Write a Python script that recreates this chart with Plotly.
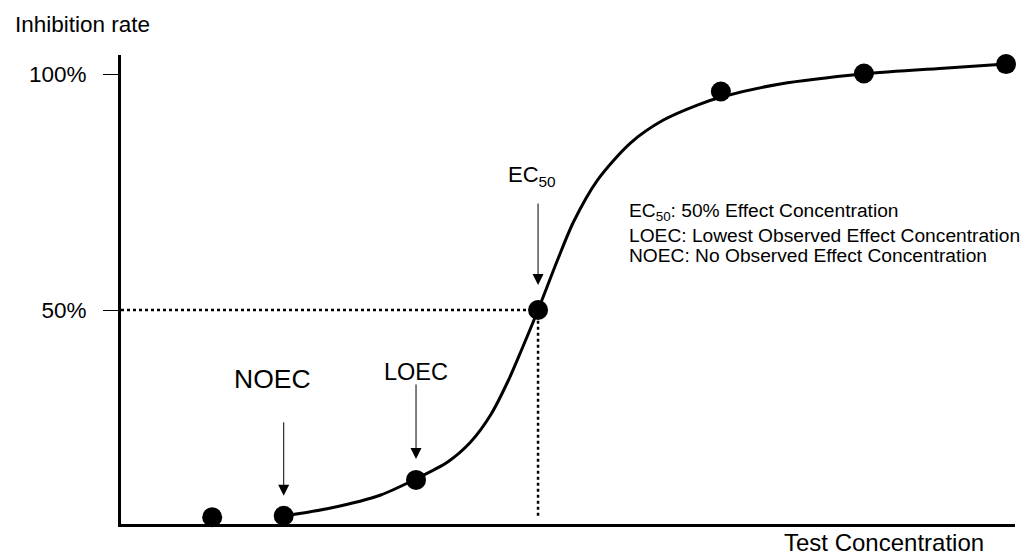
import plotly.graph_objects as go

# ---- data ----
# x: test concentration (arbitrary units), y: inhibition rate (%)
conc = [1.02, 1.82, 3.30, 4.665, 6.71, 8.31, 9.90]
inhib = [6.1, 6.4, 14.0, 50.0, 96.3, 100.1, 102.1]

curve_x = [1.821, 2.346, 2.905, 3.296, 3.654, 3.911, 4.134, 4.335, 4.480, 4.665,
           4.883, 5.061, 5.330, 5.698, 6.067, 6.447, 6.715, 7.374, 8.302, 9.240, 9.899]
curve_y = [6.36, 8.05, 10.81, 14.19, 17.80, 22.03, 27.75, 35.17, 41.53, 50.0,
           60.59, 68.64, 77.54, 85.38, 90.25, 93.43, 95.13, 97.88, 100.0, 101.27, 102.12]

y_tickvals = [50, 100]
y_ticktext = ["50%", "100%"]

legend_lines = [
    "EC<sub>50</sub>: 50% Effect Concentration",
    "LOEC: Lowest Observed Effect Concentration",
    "NOEC: No Observed Effect Concentration",
]

NOEC_i, LOEC_i, EC50_i = 1, 2, 3
X_RANGE = [0, 10]
Y_RANGE = [4.66, 104.03]

FONT = "Liberation Sans, Arial, sans-serif"

fig = go.Figure()

# dotted guide lines to EC50
fig.add_trace(go.Scatter(
    x=[X_RANGE[0], conc[EC50_i]], y=[inhib[EC50_i], inhib[EC50_i]],
    mode="lines", line=dict(color="black", width=2.5, dash="dot"),
    hoverinfo="skip", showlegend=False, cliponaxis=False))
fig.add_trace(go.Scatter(
    x=[conc[EC50_i], conc[EC50_i]], y=[inhib[1], inhib[EC50_i]],
    mode="lines", line=dict(color="black", width=2.5, dash="dot"),
    hoverinfo="skip", showlegend=False, cliponaxis=False))

# fitted curve
fig.add_trace(go.Scatter(
    x=curve_x, y=curve_y, mode="lines",
    line=dict(color="black", width=3, shape="spline", smoothing=0.8),
    showlegend=False, cliponaxis=False))

# observed points
fig.add_trace(go.Scatter(
    x=conc, y=inhib, mode="markers",
    marker=dict(color="black", size=20),
    showlegend=False, cliponaxis=False))

annotations = []
# arrows
for idx, ay, standoff in [(NOEC_i, -95, 20), (LOEC_i, -97, 21), (EC50_i, -108, 25)]:
    annotations.append(dict(
        x=conc[idx], y=inhib[idx], xref="x", yref="y", text="",
        showarrow=True, ax=0, ay=ay, arrowhead=2, arrowsize=2.2,
        arrowwidth=1, arrowcolor="black", standoff=standoff))

# arrow labels
annotations += [
    dict(x=conc[NOEC_i], y=inhib[NOEC_i], xref="x", yref="y", text="NOEC",
         showarrow=False, xshift=-11, yshift=137, yanchor="middle",
         font=dict(family=FONT, size=26.5, color="black")),
    dict(x=conc[LOEC_i], y=inhib[LOEC_i], xref="x", yref="y", text="LOEC",
         showarrow=False, xshift=0, yshift=108, yanchor="middle",
         font=dict(family=FONT, size=23.5, color="black")),
    dict(x=conc[EC50_i], y=inhib[EC50_i], xref="x", yref="y", text="EC<sub>50</sub>",
         showarrow=False, xshift=-6, yshift=134, yanchor="middle",
         font=dict(family=FONT, size=22, color="black")),
]

# definitions block
for line, yp in zip(legend_lines, [0.6642, 0.6151, 0.5725]):
    annotations.append(dict(
        x=0.5660, y=yp, xref="paper", yref="paper", text=line,
        showarrow=False, xanchor="left", yanchor="middle",
        font=dict(family=FONT, size=19.2, color="black")))

# axis titles
annotations += [
    dict(x=-0.1208, y=1.0640, xref="paper", yref="paper", text="Inhibition rate",
         showarrow=False, xanchor="left", yanchor="middle",
         font=dict(family=FONT, size=22.5, color="black")),
    dict(x=0.854, y=-0.0400, xref="paper", yref="paper", text="Test Concentration",
         showarrow=False, xanchor="center", yanchor="middle",
         font=dict(family=FONT, size=24, color="black")),
]

fig.update_layout(
    width=1026, height=545, autosize=False,
    margin=dict(l=113, r=19, t=47, b=29, pad=0),
    paper_bgcolor="white", plot_bgcolor="white",
    font=dict(family=FONT, size=22, color="black"),
    annotations=annotations,
    xaxis=dict(range=X_RANGE, showline=True, linewidth=3, linecolor="black",
               showgrid=False, zeroline=False, showticklabels=False, ticks=""),
    yaxis=dict(range=Y_RANGE, showline=True, linewidth=3, linecolor="black",
               showgrid=False, zeroline=False, tickmode="array",
               tickvals=y_tickvals, ticktext=y_ticktext, ticks="outside",
               ticklen=15, tickwidth=1, tickcolor="black",
               ticklabelstandoff=12,
               tickfont=dict(family=FONT, size=22.5, color="black")),
)

fig.write_html("out.html")
